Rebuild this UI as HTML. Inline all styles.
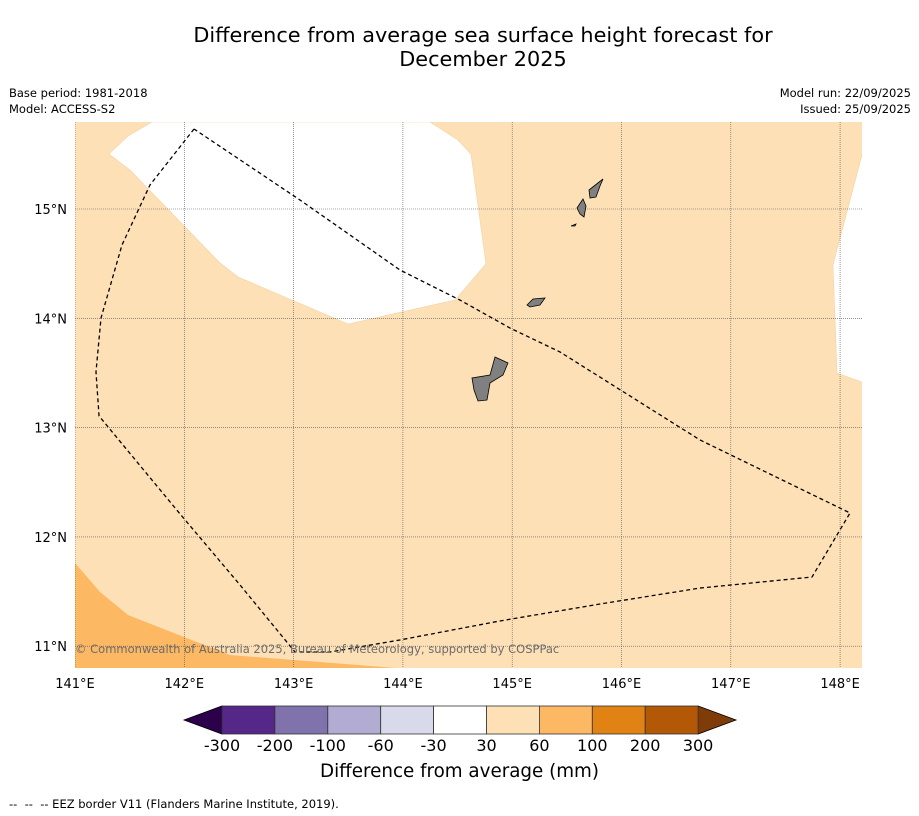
<!DOCTYPE html>
<html><head><meta charset="utf-8"><style>
body{margin:0;background:#fff;font-family:"DejaVu Sans","Liberation Sans",sans-serif}
#wrap{position:relative;width:919px;height:816px;overflow:hidden}
.t{position:absolute;color:#000;white-space:nowrap}
svg text{font-family:"DejaVu Sans","Liberation Sans",sans-serif}
</style></head><body><div id="wrap">
<div class="t" style="left:0;width:966px;top:23px;text-align:center;font-size:20.8px;line-height:24px">Difference from average sea surface height forecast for<br>December 2025</div>
<div class="t" style="left:9px;top:85px;font-size:11.5px;line-height:16px">Base period: 1981-2018<br>Model: ACCESS-S2</div>
<div class="t" style="right:8px;top:85px;font-size:11.5px;line-height:16px;text-align:right">Model run: 22/09/2025<br>Issued: 25/09/2025</div>
<svg id="svg" width="919" height="816" style="position:absolute;left:0;top:0"></svg>
<div class="t" style="left:0;width:919px;top:761px;text-align:center;font-size:18.3px">Difference from average (mm)</div>
<div class="t" style="left:9px;top:797px;font-size:11.5px">-- &nbsp;-- &nbsp;-- EEZ border V11 (Flanders Marine Institute, 2019).</div>
</div>
<script>
const lonTicks=[141,142,143,144,145,146,147,148];
const latTicks=[11,12,13,14,15];
const cbLevels=["-300","-200","-100","-60","-30","30","60","100","200","300"];
const cbColors=["#542788","#8073ac","#b2abd2","#d8daeb","#ffffff","#fee0b6","#fdb863","#e08214","#b35806"];
const eezLon=[142.089,141.686,141.430,141.238,141.192,141.220,141.961,142.510,143.013,143.333,143.973,144.888,145.803,146.718,147.743,148.091,146.718,145.437,144.980,144.522,143.973,143.059,142.089];
const eezLat=[15.732,15.220,14.671,14.003,13.509,13.106,12.210,11.560,10.947,10.947,11.057,11.231,11.386,11.532,11.633,12.219,12.887,13.692,13.911,14.167,14.442,15.082,15.732];
const whiteLon=[141.704,141.485,141.311,141.503,142.327,142.491,143.498,144.477,144.760,144.623,144.504,144.248];
const whiteLat=[15.796,15.668,15.503,15.357,14.506,14.378,13.948,14.167,14.497,15.503,15.631,15.796];
const white2Lon=[148.3,148.2,147.935,147.972,148.2,148.3];
const white2Lat=[15.9,15.494,14.488,13.499,13.417,13.0];
const orLon=[141.0,141.229,141.485,142.418,143.946,141.0];
const orLat=[11.761,11.496,11.285,10.919,10.8,10.8];
const X0=75,X1=862,Y0=122,Y1=668;
const x=lon=>75+(lon-141)*109.3;
const y=lat=>209-(lat-15)*109.3;
const S=document.getElementById('svg');const NS='http://www.w3.org/2000/svg';
function mk(t,a,p){const e=document.createElementNS(NS,t);for(const k in a)e.setAttribute(k,a[k]);(p||S).appendChild(e);return e;}
const defs=mk('defs',{});const cp=mk('clipPath',{id:'c'},defs);mk('rect',{x:X0,y:Y0,width:X1-X0,height:Y1-Y0},cp);
const g=mk('g',{'clip-path':'url(#c)'});
const bg=mk('rect',{x:X0,y:Y0,width:X1-X0,height:Y1-Y0,fill:'#fee0b6'},g);

function poly(lons,lats,attrs,name){const e=mk('polygon',Object.assign({points:lons.map((l,i)=>x(l)+','+y(lats[i])).join(' ')},attrs),g);

return e;}
poly(whiteLon,whiteLat,{fill:'#fff',stroke:'#f3d2a6','stroke-width':0.6},'ssh-neutral-region-north');
poly(white2Lon,white2Lat,{fill:'#fff',stroke:'#f3d2a6','stroke-width':0.6},'ssh-neutral-region-east');
poly(orLon,orLat,{fill:'#fdb863'},'ssh-60-100-region');
lonTicks.forEach(l=>{const e=mk('line',{x1:x(l),x2:x(l),y1:Y0,y2:Y1,stroke:'#555','stroke-width':0.6,'stroke-dasharray':'1,1'},g);


const t=mk('text',{x:x(l),y:688,'text-anchor':'middle','font-size':13});t.textContent=l+'°E';

});
latTicks.forEach(l=>{const e=mk('line',{x1:X0,x2:X1,y1:y(l),y2:y(l),stroke:'#555','stroke-width':0.6,'stroke-dasharray':'1,1'},g);


const t=mk('text',{x:67,y:y(l)+5,'text-anchor':'end','font-size':13});t.textContent=l+'°N';

});
[["495,357 508,363 503,375 490,383 487,400 478,401 474,390 472,378 490,375",'guam'],
 ["527,305 533,299 545,298 540,305 530,307",'rota'],
 ["577,208 583,199 586,206 584,217 580,214",'tinian'],
 ["589,190 603,179 600,186 596,197 590,198",'saipan'],
 ["571,226 576,224 575,226",'aguijan']].forEach(([p,n])=>{const e=mk('polygon',{points:p,fill:'#808080',stroke:'#000','stroke-width':0.8},g);

});
const eez=mk('polyline',{points:eezLon.map((l,i)=>x(l)+','+y(eezLat[i])).join(' '),fill:'none',stroke:'#000','stroke-width':1.3,'stroke-dasharray':'4,3'},g);


const cr=mk('text',{x:75,y:653,'font-size':11.5,fill:'#6b6b6b'},g);cr.textContent='© Commonwealth of Australia 2025, Bureau of Meteorology, supported by COSPPac';


const cx0=222,cw=52.9,cy=706,ch=28;
const lt=mk('polygon',{points:`184,720 ${cx0},${cy} ${cx0},${cy+ch}`,fill:'#2d004b',stroke:'#000','stroke-width':0.8});


const rx=cx0+cw*cbColors.length;
const rt=mk('polygon',{points:`${rx},${cy} 736,720 ${rx},${cy+ch}`,fill:'#7f3b08',stroke:'#000','stroke-width':0.8});


cbColors.forEach((c,i)=>{const r=mk('rect',{x:cx0+i*cw,y:cy,width:cw,height:ch,fill:c,stroke:'#333','stroke-width':0.8});

});
cbLevels.forEach((v,i)=>{const t=mk('text',{x:cx0+i*cw,y:751,'text-anchor':'middle','font-size':16});t.textContent=v;

});
</script></body></html>
